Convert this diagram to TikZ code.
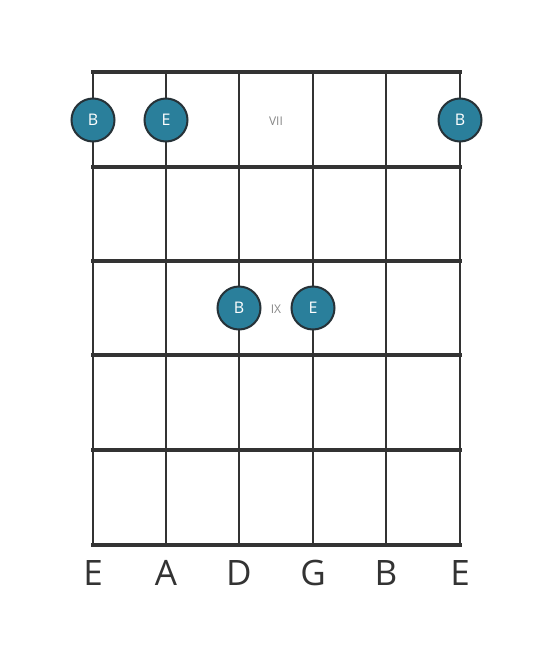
\documentclass[tikz,border=0pt]{standalone}
\usepackage{fontspec}
\setmainfont{Open Sans}
\definecolor{ink}{HTML}{333333}
\definecolor{dotfill}{HTML}{2A7F9B}
\definecolor{dotline}{HTML}{263238}
\definecolor{fretnum}{HTML}{888888}
\begin{document}
\begin{tikzpicture}[x=1pt,y=-1pt,
  fretline/.style={line width=4.5pt,draw=ink},
  stringline/.style={line width=2.5pt,draw=ink},
  notedot/.style={circle,minimum size=43pt,inner sep=0pt,fill=dotfill,draw=dotline,line width=2pt,text=white,font=\fontsize{16}{16}\selectfont},
  strname/.style={text=ink,font=\fontsize{35}{35}\selectfont,anchor=center},
  fretlabel/.style={text=fretnum,font=\fontsize{12}{12}\selectfont}]
\useasboundingbox[fill=white] (0,0) rectangle (553,656);
% strings
\foreach \x [count=\i] in {93,166,239,313,386,460}{
  \draw[stringline] (\x,72) -- (\x,545);
}
% frets
\foreach \y in {72,167,261,355,450,545}{
  \draw[fretline] (91,\y) -- (462,\y);
}
% fret labels
\node[fretlabel] (vii) at (276,121) {VII};
\node[fretlabel] (ix) at (276,309) {IX};
% notes
\node[notedot] (n1) at (93,120) {B};
\node[notedot] (n2) at (166,120) {E};
\node[notedot] (n3) at (460,120) {B};
\node[notedot] (n4) at (239,308) {B};
\node[notedot] (n5) at (313,308) {E};
% string names
\node[strname] (s1) at (93,573) {E};
\node[strname] (s2) at (166,573) {A};
\node[strname] (s3) at (239,573) {D};
\node[strname] (s4) at (313,573) {G};
\node[strname] (s5) at (386,573) {B};
\node[strname] (s6) at (460,573) {E};
\end{tikzpicture}
\end{document}
